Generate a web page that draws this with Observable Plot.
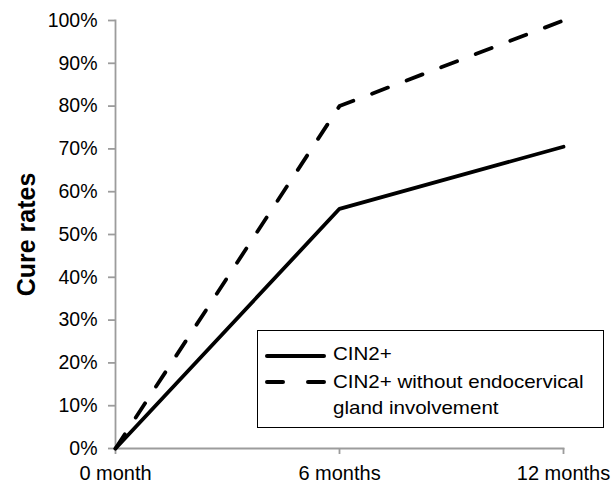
<!DOCTYPE html>
<html>
<head>
<meta charset="utf-8">
<script src="https://cdn.jsdelivr.net/npm/d3@7"></script>
<script src="https://cdn.jsdelivr.net/npm/@observablehq/plot@0.6"></script>
<style>
  html, body { margin: 0; padding: 0; background: #fff; }
  #wrap { position: relative; width: 613px; height: 485px; font-family: "Liberation Sans", Arial, sans-serif; }
  #legendBox { position: absolute; left: 257px; top: 330px; width: 347px; height: 98px; border: 1.5px solid #000; box-sizing: border-box; }
  .ltext { position: absolute; left: 333px; font-size: 18.5px; line-height: 1; color: #000; white-space: nowrap; transform: scaleX(1.11); transform-origin: left center; }
  .lsample { position: absolute; left: 262px; }
</style>
</head>
<body>
<div id="wrap"></div>
<script>
const months = ["0 month", "6 months", "12 months"];
const seriesNames = ["CIN2+", "CIN2+ without endocervical gland involvement"];
const legendLines = ["CIN2+", "CIN2+ without endocervical", "gland involvement"];
const cin2 = [0, 0.56, 0.705];
const cin2NoGland = [0, 0.80, 1.00];
const yTicks = [0, 0.1, 0.2, 0.3, 0.4, 0.5, 0.6, 0.7, 0.8, 0.9, 1.0];

const data = [];
months.forEach((m, i) => {
  data.push({month: m, value: cin2[i], series: seriesNames[0]});
  data.push({month: m, value: cin2NoGland[i], series: seriesNames[1]});
});

const axisColor = "#9c9c9c";
const chart = Plot.plot({
  width: 613,
  height: 485,
  marginLeft: 115,
  marginRight: 50,
  marginTop: 20,
  marginBottom: 37,
  style: {fontFamily: "'Liberation Sans', Arial, sans-serif", color: "#000", background: "#fff", overflow: "visible"},
  x: {type: "point", domain: months, padding: 0},
  y: {domain: [0, 1]},
  marks: [
    Plot.frame({anchor: "left", stroke: axisColor, strokeWidth: 1.8}),
    Plot.frame({anchor: "bottom", stroke: axisColor, strokeWidth: 1.8}),
    Plot.axisY({ticks: yTicks, tickFormat: d => Math.round(d * 100) + "%", tickSize: 7, tickPadding: 11, stroke: axisColor, strokeWidth: 1.8, label: null, fontSize: 19.5}),
    Plot.axisX({tickSize: 6, tickPadding: 11, stroke: axisColor, strokeWidth: 1.8, label: null, fontSize: 20}),
    Plot.text(["Cure rates"], {frameAnchor: "left", textAnchor: "middle", dx: -89, rotate: -90, fontWeight: "bold", fontSize: 25}),
    Plot.line(data.filter(d => d.series === seriesNames[0]), {x: "month", y: "value", stroke: "#000", strokeWidth: 3.8, strokeLinecap: "round"}),
    Plot.line(data.filter(d => d.series === seriesNames[1]), {x: "month", y: "value", stroke: "#000", strokeWidth: 3.8, strokeDasharray: "17,20", strokeLinecap: "round"})
  ]
});

const wrap = document.getElementById("wrap");
wrap.appendChild(chart);

const box = document.createElement("div");
box.id = "legendBox";
wrap.appendChild(box);

const tops = [345, 372.6, 399.3];
legendLines.forEach((t, i) => {
  const s = document.createElement("div");
  s.className = "ltext";
  s.style.top = tops[i] + "px";
  s.textContent = t;
  wrap.appendChild(s);
});

const samples = [
  {top: 347, dash: null},
  {top: 373, dash: "16,25"}
];
samples.forEach(smp => {
  const d = document.createElement("div");
  d.className = "lsample";
  d.style.top = smp.top + "px";
  d.innerHTML = `<svg width="68" height="10"><line x1="5" y1="5" x2="62" y2="5" stroke="#000" stroke-width="4" stroke-linecap="round"${smp.dash ? ` stroke-dasharray="${smp.dash}"` : ""}/></svg>`;
  wrap.appendChild(d);
});
</script>
</body>
</html>
